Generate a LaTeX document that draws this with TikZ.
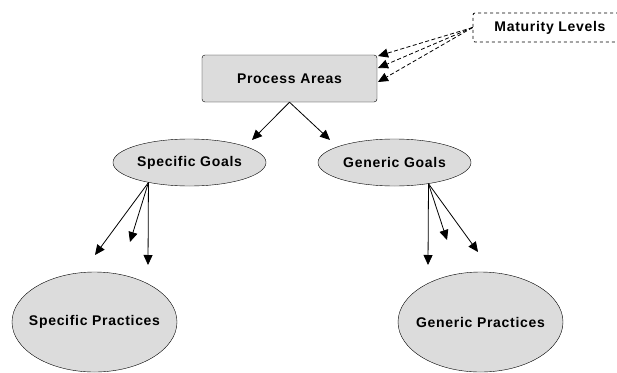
\documentclass[tikz,border=0pt]{standalone}
\usepackage{fontspec}
\setmainfont{Liberation Sans}[LetterSpace=5]
\usetikzlibrary{shapes.geometric,arrows.meta}
\definecolor{boxgray}{HTML}{DCDCDC}

\begin{document}
\begin{tikzpicture}[x=1pt,y=-1pt,
        every node/.style={font=\fontsize{14}{16}\selectfont\bfseries},
        areabox/.style={draw,fill=boxgray,rounded corners=3pt,minimum width=175pt,minimum height=47pt},
        levelbox/.style={draw,dashed,rounded corners=2pt,line width=0.8pt,minimum width=154pt,minimum height=29pt},
        goal/.style={draw,ellipse,fill=boxgray,minimum width=153pt,minimum height=47pt,inner xsep=-10pt,inner ysep=0pt},
        practice/.style={goal,minimum width=165pt,minimum height=100pt,inner xsep=-20pt},
        arr/.style={-{Triangle[length=10pt,width=9pt]},line width=0.8pt},
        darr/.style={arr,dash pattern=on 4pt off 2.5pt}]
    \useasboundingbox (0,0) rectangle (617,372);
    \node[areabox]  (pa) at (289.5,78.5) {Process Areas};          % top box
    \node[levelbox] (ml) at (550,27.5)   {Maturity Levels};        % runs off the right edge
    \node[goal]     (sg) at (189.5,162.5) {Specific Goals};
    \node[goal]     (gg) at (394.5,162.5) {Generic Goals};
    \node[practice] (sp) at (94.5,322)   {Specific Practices};
    \node[practice] (gp) at (480.5,322)  {Generic Practices};
    % free arrow ends
    \coordinate (pa1) at (252,140);
    \coordinate (pa2) at (330,140);
    \coordinate (ml1) at (378,56);
    \coordinate (ml2) at (378,68);
    \coordinate (ml3) at (378,82);
    \coordinate (sg1) at (95,255);
    \coordinate (sg2) at (130,242);
    \coordinate (sg3) at (148,265);
    \coordinate (gg1) at (428,265);
    \coordinate (gg2) at (447,240);
    \coordinate (gg3) at (478,252);
    \foreach \t in {ml1,ml2,ml3}
        \draw[darr] (ml.west) -- (\t);                              % dashed arrows
    \foreach \t in {pa1,pa2}
        \draw[arr] (pa.south) -- (\t);
    \foreach \t in {sg1,sg2,sg3}
        \draw[arr] (sg.206) -- (\t);
    \foreach \t in {gg1,gg2,gg3}
        \draw[arr] (gg.328) -- (\t);
\end{tikzpicture}
\end{document}
